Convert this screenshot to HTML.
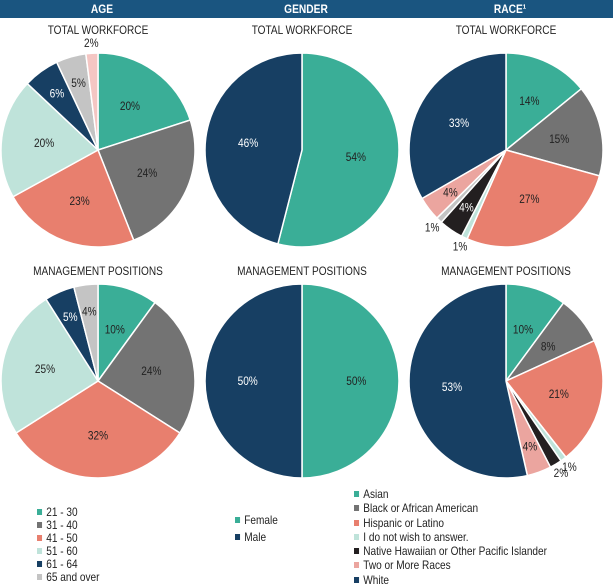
<!DOCTYPE html>
<html><head><meta charset="utf-8"><style>
body{margin:0;width:613px;height:588px;background:#fff;font-family:"Liberation Sans Narrow","Liberation Sans",sans-serif;overflow:hidden;position:relative}
.hdr{position:absolute;top:0;left:0;width:613px;height:18px;background:#1a5580}
.hdr div{position:absolute;top:2px;color:#fff;font-weight:bold;font-size:12px;width:204px;text-align:center;transform:scaleX(0.85)}
.leg{position:absolute;font-size:12px;color:#222;transform:scaleX(0.84);transform-origin:0 0}
.leg div{height:13px;line-height:13px;white-space:nowrap}
.leg span{display:inline-block;width:6px;height:6px;margin-right:5px;vertical-align:1px}
</style></head><body>
<div class="hdr">
<div style="left:0">AGE</div>
<div style="left:204px">GENDER</div>
<div style="left:408px">RACE¹</div>
</div>
<svg id="c" width="613" height="588" style="position:absolute;top:0;left:0"></svg>
<div class="leg" style="left:37px;top:506px">
<div><span style="background:#3aae97"></span>21 - 30</div>
<div><span style="background:#737373"></span>31 - 40</div>
<div><span style="background:#e87f6e"></span>41 - 50</div>
<div><span style="background:#bfe3da"></span>51 - 60</div>
<div><span style="background:#173f63"></span>61 - 64</div>
<div><span style="background:#c4c4c4"></span>65 and over</div>
</div>
<div class="leg" style="left:235px;top:514px">
<div style="height:17px"><span style="background:#3aae97"></span>Female</div>
<div><span style="background:#173f63"></span>Male</div>
</div>
<div class="leg" style="left:354px;top:488px">
<div style="height:14.3px"><span style="background:#3aae97"></span>Asian</div>
<div style="height:14.3px"><span style="background:#737373"></span>Black or African American</div>
<div style="height:14.3px"><span style="background:#e87f6e"></span>Hispanic or Latino</div>
<div style="height:14.3px"><span style="background:#bfe3da"></span>I do not wish to answer.</div>
<div style="height:14.3px"><span style="background:#231f20"></span>Native Hawaiian or Other Pacific Islander</div>
<div style="height:14.3px"><span style="background:#eba59f"></span>Two or More Races</div>
<div style="height:14.3px"><span style="background:#173f63"></span>White</div>
</div>
<script>
const ageColors=["#3aae97","#737373","#e87f6e","#bfe3da","#173f63","#c4c4c4","#f4c6c3"];
const ageTotal=[20,24,23,20,6,5,2];
const ageMgmt=[10,24,32,25,5,4,0];
const genderColors=["#3aae97","#173f63"];
const genderTotal=[54,46];
const genderMgmt=[50,50];
const raceColors=["#3aae97","#737373","#e87f6e","#bfe3da","#231f20","#c4c4c4","#eba59f","#173f63"];
const raceTotal=[14,15,27,1,4,1,4,33];
const raceMgmt=[10,8,21,1,2,0,4,53];
const titles=["TOTAL WORKFORCE","MANAGEMENT POSITIONS"];
const svg=document.getElementById('c');
const NS="http://www.w3.org/2000/svg";
const R=97;
function mk(t,a){const e=document.createElementNS(NS,t);for(const k in a)e.setAttribute(k,a[k]);svg.appendChild(e);return e;}
function txt(x,y,s,size,fill){const t=mk('text',{transform:`translate(${x},${y}) scale(0.84,1)`,'text-anchor':'middle','font-size':size,fill:fill});t.textContent=s;return t;}
function pie(cx,cy,vals,cols,name){
  const tot=vals.reduce((a,b)=>a+b,0);let a0=0;
  vals.forEach((v,i)=>{
    if(v<=0)return;
    const a1=a0+v/tot*2*Math.PI;
    const p=(a)=>[cx+R*Math.sin(a),cy-R*Math.cos(a)];
    const [x0,y0]=p(a0),[x1,y1]=p(a1);
    const path=mk('path',{d:`M${cx},${cy}L${x0},${y0}A${R},${R} 0 ${a1-a0>Math.PI?1:0} 1 ${x1},${y1}Z`,fill:cols[i],stroke:'#fff','stroke-width':1.5});
    
    
    const m=(a0+a1)/2;const out=v<=2;const rr=out?R+10:(v<=6?R*0.72:R*0.56);
    const dark=cols[i]=="#173f63"||cols[i]=="#231f20";
    const t=txt(cx+rr*Math.sin(m),cy-rr*Math.cos(m)+4,v+'%',12,(!out&&dark)?'#fff':'#222');
    
    
    a0=a1;
  });
}
const cxs=[98,302,506],cys=[150,381],tys=[34,275];
const sets=[[ageTotal,ageMgmt,ageColors,'age'],[genderTotal,genderMgmt,genderColors,'gender'],[raceTotal,raceMgmt,raceColors,'race']];
sets.forEach((s,c)=>{
  [0,1].forEach(r=>{
    const t=txt(cxs[c],tys[r],titles[r],12,'#222');
    
    
    pie(cxs[c],cys[r],s[r],s[2],s[3]+(r?'-mgmt':'-total'));
  });
});
</script>
</body></html>
